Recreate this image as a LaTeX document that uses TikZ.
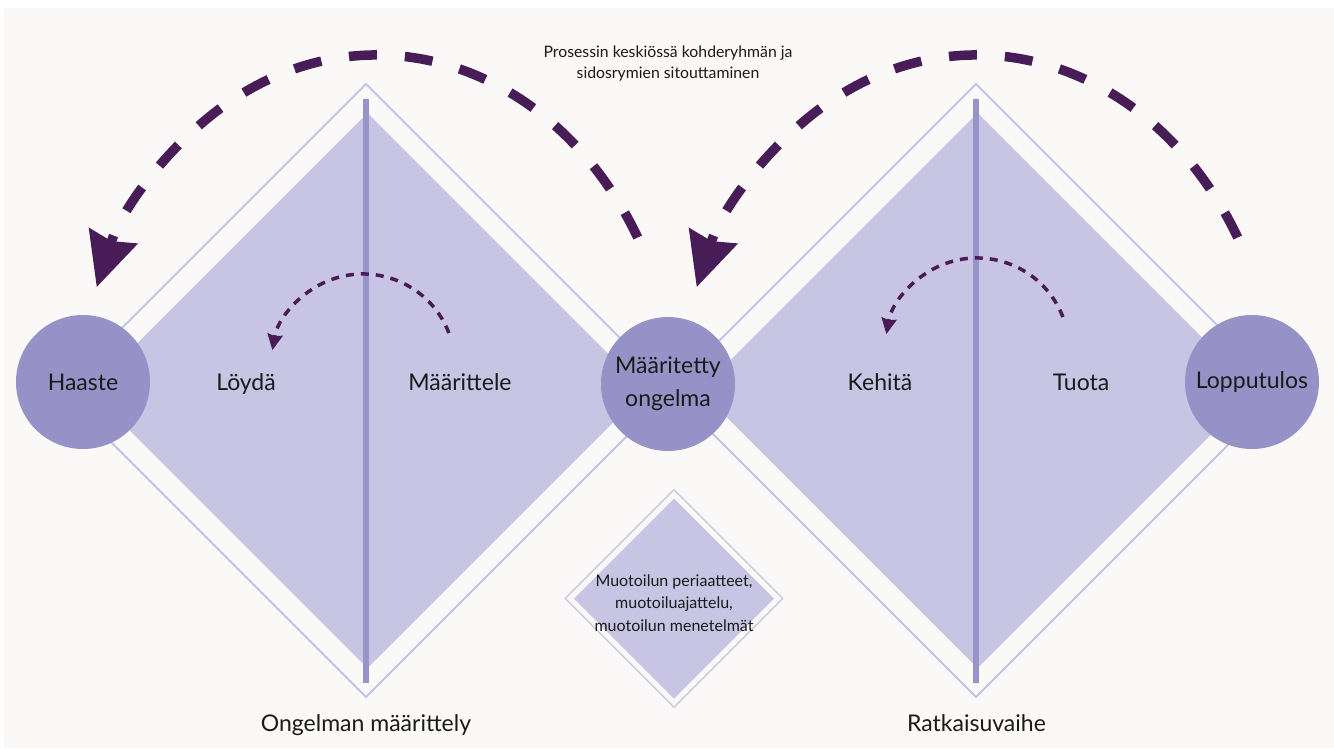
\documentclass[tikz,border=0pt]{standalone}
\usepackage{fontspec}
\setmainfont{Lato}
\usetikzlibrary{shapes.geometric,arrows.meta}
\definecolor{bgC}{HTML}{FAF9F8}
\definecolor{fillC}{HTML}{C7C4E4}
\definecolor{lineC}{HTML}{C6C3E6}
\definecolor{circC}{HTML}{9692C7}
\definecolor{barC}{HTML}{9894CA}
\definecolor{arrC}{HTML}{481C56}
\definecolor{txtC}{HTML}{1A1A1A}
\begin{document}
\begin{tikzpicture}[x=1pt,y=-1pt,
  outerdia/.style={diamond, draw=lineC, line width=2pt, inner sep=0pt, outer sep=0pt, minimum size=#1},
  innerdia/.style={diamond, fill=fillC, inner sep=0pt, outer sep=0pt, minimum size=#1},
  stage/.style={circle, fill=circC, inner sep=0pt, minimum size=134pt, text=txtC, align=center,
    font=\fontsize{23}{33}\selectfont},
  lbl/.style={text=txtC, anchor=base, inner sep=0pt, font=\fontsize{23}{27}\selectfont},
  bar/.style={draw=barC, line width=6pt},
  bigarrow/.style={draw=arrC, line width=9.5pt, dash pattern=on 28pt off 28pt,
    -{Stealth[length=54pt,width=52pt,inset=6pt,line width=0pt]}},
  smallarrow/.style={draw=arrC, line width=3.5pt, dash pattern=on 8pt off 7pt,
    -{Stealth[length=16pt,width=16pt,inset=2pt,line width=0pt]}}
]
\useasboundingbox (0,0) rectangle (1334,748);
\fill[white] (0,0) rectangle (1334,748);
\fill[bgC] (4,8) rectangle (1334,748);

% big diamonds
\node[outerdia=613pt] (LO) at (366,390.5) {};
\node[outerdia=613pt] (RO) at (976,390.5) {};
\node[innerdia=555pt] (LI) at (367.5,390.5) {};
\node[innerdia=555pt] (RI) at (977.5,390.5) {};
\draw[bar] (366,99) -- (366,683);
\draw[bar] (976,99) -- (976,683);

% small diamond
\node[diamond, draw=lineC, line width=1.3pt, inner sep=0pt, minimum size=218pt] (SO) at (674,598.5) {};
\node[innerdia=200pt] (SI) at (674,598.5) {};
\node[text=txtC, align=center, font=\fontsize{16}{22.5}\selectfont] (ST) at (674,603)
  {Muotoilun periaatteet,\\muotoiluajattelu,\\muotoilun menetelmät};

% stage circles
\node[stage] (haaste) at (83,382) {Haaste};
\node[stage] (maar) at (668,384) {Määritetty\\ongelma};
\node[stage] (loppu) at (1252,382) {Lopputulos};

% labels
\node[lbl] (loyda) at (246,390) {Löydä};
\node[lbl] (maarit) at (460,390) {Määrittele};
\node[lbl] (kehita) at (880,390) {Kehitä};
\node[lbl] (tuota) at (1081,390) {Tuota};
\node[lbl] (ongel) at (366,731) {Ongelman määrittely};
\node[lbl] (ratk) at (976.5,731) {Ratkaisuvaihe};
\node[text=txtC, align=center, font=\fontsize{15.8}{21}\selectfont] (top) at (668,64)
  {Prosessin keskiössä kohderyhmän ja\\sidosrymien sitouttaminen};

% big dashed arrows
\coordinate (a1s) at (637.7,237.5);
\coordinate (a2s) at (1237.7,237.5);
\draw[bigarrow] (a1s) arc[start angle=-30, end angle=-158.6, x radius=301, y radius=365];
\draw[bigarrow] (a2s) arc[start angle=-30, end angle=-158.6, x radius=301, y radius=365];

% small dashed arrows
\coordinate (s1s) at (448.9,333);
\coordinate (s2s) at (1062.9,317);
\draw[smallarrow] (s1s) arc[start angle=-21, end angle=-170, radius=92];
\draw[smallarrow] (s2s) arc[start angle=-21, end angle=-170, radius=92];
\end{tikzpicture}
\end{document}
